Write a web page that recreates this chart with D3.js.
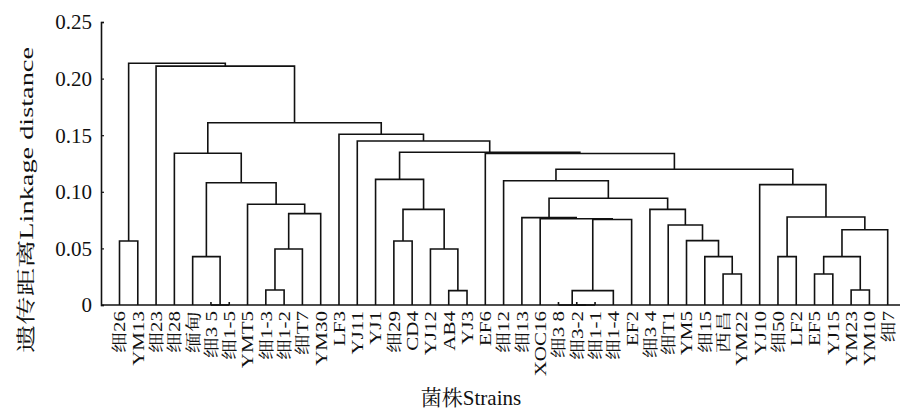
<!DOCTYPE html>
<html>
<head>
<meta charset="utf-8">
<script src="https://cdn.jsdelivr.net/npm/d3@7"></script>
<style>
  body { margin: 0; background: #fff; }
  svg { display: block; }
  .lbl { font-family: "Liberation Serif", "Noto Serif CJK SC", "Noto Sans CJK SC", serif; fill: #111; }
</style>
</head>
<body>
<div class="plot-container"></div>
<script>
// leaf order along the x axis
const strains = ["细26", "YM13", "细23", "细28", "缅甸", "细3 5", "细1-5", "YMT5", "细1-3", "细1-2",
  "细T7", "YM30", "LF3", "YJ11", "YJ1", "细29", "CD4", "YJ12", "AB4", "YJ3",
  "EF6", "细12", "细13", "XOC16", "细3 8", "细3-2", "细1-1", "细1-4", "EF2", "细3 4",
  "细T1", "YM5", "细15", "西昌", "YM22", "YJ10", "细50", "LF2", "EF5", "YJ15",
  "YM23", "YM10", "细7"];

// linkage: [left id, right id, distance]; ids >= strains.length are earlier merges
const merges = [
  [5, 6, 0], [4, 43, 0.0427], [8, 9, 0.0133], [45, 10, 0.0495], [46, 11, 0.0807],
  [7, 47, 0.089], [44, 48, 0.108], [3, 49, 0.134], [0, 1, 0.0565], [15, 16, 0.0565],
  [18, 19, 0.0127], [17, 53, 0.0495], [52, 54, 0.0845], [14, 55, 0.111], [25, 26, 0],
  [24, 57, 0], [58, 27, 0.0127], [59, 28, 0.0755], [23, 60, 0.0762], [22, 61, 0.0772],
  [33, 34, 0.0274], [32, 63, 0.0427], [31, 64, 0.0569], [30, 65, 0.0707], [29, 66, 0.0845],
  [62, 67, 0.0943], [21, 68, 0.1098], [38, 39, 0.0274], [40, 41, 0.0133], [70, 71, 0.0427],
  [72, 42, 0.0665], [36, 37, 0.0427], [74, 73, 0.0777], [35, 75, 0.1063], [69, 76, 0.1199],
  [20, 77, 0.1338], [56, 78, 0.1349], [13, 79, 0.1449], [12, 80, 0.1508], [50, 81, 0.161],
  [2, 82, 0.211], [51, 83, 0.2135]
];

const yTicks = [0, 0.05, 0.10, 0.15, 0.20, 0.25];
const yTickLabels = ["0", "0.05", "0.10", "0.15", "0.20", "0.25"];
const yTitle = "遗传距离Linkage distance";
const xTitle = "菌株Strains";

const W = 905, H = 411;
const axisX = 101, baseY = 305, topY = 22;

const svg = d3.select("div.plot-container")
  .append("svg")
  .attr("width", W)
  .attr("height", H);

const x = d3.scalePoint().domain(d3.range(strains.length)).range([119.5, 887.7]);
const y = d3.scaleLinear().domain([0, 0.25]).range([baseY, topY]);

// *************************************
// NODE POSITIONS
// *************************************

let nodes = strains.map((s, i) => ({ x: x(i), h: 0 }));
merges.forEach(([a, b, h]) => {
  nodes.push({ x: (nodes[a].x + nodes[b].x) / 2, h: h, a: a, b: b });
});

// *************************************
// AXES
// *************************************

svg.append("line")
   .attr("x1", axisX).attr("x2", 900)
   .attr("y1", baseY).attr("y2", baseY)
   .attr("stroke", "#111").attr("stroke-width", 1.6);

let yAxis = svg.append("g")
  .attr("transform", `translate(${axisX},0)`)
  .call(d3.axisRight(y).tickValues(yTicks).tickSize(3).tickFormat(""));
yAxis.select(".domain").attr("stroke", "#111").attr("stroke-width", 1.6);
yAxis.selectAll(".tick line").attr("stroke", "#111").attr("stroke-width", 1.2);

svg.append("g").selectAll("text")
   .data(yTicks)
   .join("text")
   .attr("class", "lbl")
   .attr("x", 92)
   .attr("y", (d) => y(d))
   .attr("dy", "0.35em")
   .attr("text-anchor", "end")
   .style("font-size", "21px")
   .text((d, i) => yTickLabels[i]);

// *************************************
// DENDROGRAM LINKS
// *************************************

let links = nodes.filter((n) => n.a !== undefined);
svg.append("g")
   .attr("fill", "none")
   .attr("stroke", "#111")
   .attr("stroke-width", 1.6)
   .attr("stroke-linejoin", "miter")
   .selectAll("path")
   .data(links)
   .join("path")
   .attr("d", (n) => {
     let l = nodes[n.a], r = nodes[n.b];
     return `M${l.x},${y(l.h)}V${y(n.h)}H${r.x}V${y(r.h)}`;
   });

// small marks where strains join at zero distance
let zeroLeaves = [];
merges.forEach(([a, b, h]) => {
  if (h === 0) [a, b].forEach((k) => { if (k < strains.length) zeroLeaves.push(k); });
});
svg.append("g").selectAll("line")
   .data(zeroLeaves)
   .join("line")
   .attr("x1", (k) => x(k)).attr("x2", (k) => x(k))
   .attr("y1", baseY - 3).attr("y2", baseY)
   .attr("stroke", "#111").attr("stroke-width", 1.6);

// *************************************
// LABELS
// *************************************

svg.append("g").selectAll("text")
   .data(strains)
   .join("text")
   .attr("class", "lbl")
   .attr("transform", (d, i) => `translate(${x(i)},311) rotate(-90) scale(1,0.78)`)
   .attr("dy", "0.36em")
   .attr("text-anchor", "end")
   .style("font-size", "21px")
   .text((d) => d);

svg.append("text")
   .attr("class", "lbl")
   .attr("transform", "translate(33,200) rotate(-90) scale(1,0.85)")
   .attr("text-anchor", "middle")
   .attr("textLength", 306)
   .attr("lengthAdjust", "spacingAndGlyphs")
   .style("font-size", "23px")
   .text(yTitle);

svg.append("text")
   .attr("class", "lbl")
   .attr("x", 471)
   .attr("y", 405)
   .attr("text-anchor", "middle")
   .style("font-size", "21px")
   .text(xTitle);
</script>
</body>
</html>
